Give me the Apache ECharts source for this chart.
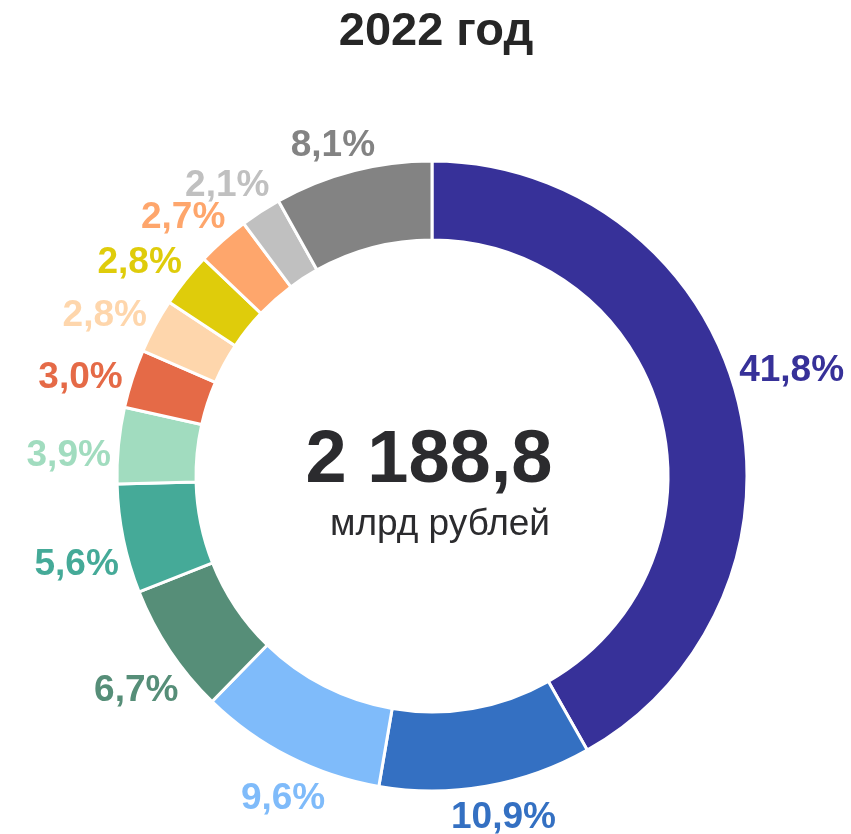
<!DOCTYPE html>
<html>
	<head>
		<meta charset="UTF-8">
		<title>2022 год</title>
		<script src="https://cdn.jsdelivr.net/npm/echarts@6/dist/echarts.min.js"></script>
		<style>
			html, body { margin: 0; padding: 0; background: #fff; }
			#chart { width: 851px; height: 834px; }
		</style>
	</head>
	<body>
		<div id="chart"></div>
		<script>
			// доли, %
			var shares = [41.8, 10.9, 9.6, 6.7, 5.6, 3.9, 3.0, 2.8, 2.8, 2.7, 2.1, 8.1];
			var colors = ['#373199', '#3470c2', '#7fbbfa', '#568e78', '#45aa98', '#a1dcbf',
				'#e56a47', '#fed6ac', '#dfcc0b', '#fea66c', '#c0c0c0', '#838383'];
			var total = '2 188,8';
			var unit = 'млрд рублей';

			var font = 'Liberation Sans, Arial, sans-serif';
			var outerR = 315;
			var labelGap = 6;
			var labelHalfH = 15;
			var labelTurn = -2 * Math.PI / 180;

			var chart = echarts.init(document.getElementById('chart'));

			var data = [];
			for (var i = 0; i < shares.length; i++) {
				data.push({
					value: shares[i],
					name: 'p' + i,
					itemStyle: { color: colors[i] },
					label: { color: colors[i] }
				});
			}

			var option = {
				animation: false,
				title: [{
					text: '2022 год',
					left: 431,
					top: 4,
					textAlign: 'center',
					textStyle: { fontFamily: font, fontSize: 47, fontWeight: 'bold', color: '#262626' }
				}, {
					text: total,
					left: 424,
					top: 420,
					textAlign: 'center',
					textStyle: { fontFamily: font, fontSize: 74, fontWeight: 'bold', color: '#2b2b2e' }
				}, {
					text: unit,
					left: 435,
					top: 501,
					textAlign: 'center',
					textStyle: { fontFamily: font, fontSize: 37, fontWeight: 'normal', color: '#2b2b2e' }
				}],
				series: [{
					type: 'pie',
					center: [432, 476],
					radius: [236, outerR],
					startAngle: 90,
					clockwise: true,
					avoidLabelOverlap: false,
					itemStyle: { borderColor: '#fff', borderWidth: 3 },
					label: {
						show: true,
						position: 'outside',
						formatter: function (p) {
							return p.value.toFixed(1).replace('.', ',') + '%';
						},
						fontFamily: font,
						fontSize: 37,
						fontWeight: 'bold'
					},
					// линия нужна только для направления подписи
					labelLine: { show: true, length: 10, length2: 0, lineStyle: { opacity: 0, width: 0 } },
					// подпись центрируется по лучу сектора, ближний край на labelGap от кольца
					labelLayout: function (p) {
						var pts = p.labelLinePoints;
						if (!pts) return {};
						var dx = pts[1][0] - pts[0][0], dy = pts[1][1] - pts[0][1];
						var len = Math.sqrt(dx * dx + dy * dy) || 1;
						dx /= len; dy /= len;
						var cx = pts[0][0] - dx * outerR, cy = pts[0][1] - dy * outerR;
						var a = Math.atan2(dx, -dy) + labelTurn;
						var nx = Math.sin(a), ny = -Math.cos(a);
						var ext = Math.abs(nx) * p.labelRect.width / 2 + Math.abs(ny) * labelHalfH;
						var d = outerR + labelGap + ext;
						return { x: cx + nx * d, y: cy + ny * d + 3, align: 'center', verticalAlign: 'middle' };
					},
					data: data
				}]
			};

			chart.setOption(option);
		</script>
	</body>
</html>
